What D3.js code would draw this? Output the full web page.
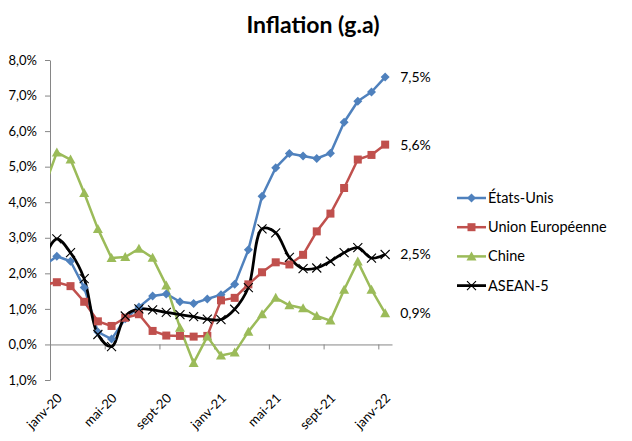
<!DOCTYPE html>
<html><head><meta charset="utf-8">
<script src="https://cdn.jsdelivr.net/npm/d3@7"></script>
<style>
body{margin:0;background:#fff;}
svg{display:block;font-family:Lato,"Open Sans",sans-serif;}
</style></head>
<body><svg id="c" width="632" height="441"></svg>
<script>
// Months: index -1 = déc-19 (clipped at the axis), 0 = janv-20 ... 24 = janv-22
const months = ["déc-19","janv-20","févr-20","mars-20","avr-20","mai-20","juin-20","juil-20","août-20","sept-20","oct-20","nov-20","déc-20",
  "janv-21","févr-21","mars-21","avr-21","mai-21","juin-21","juil-21","août-21","sept-21","oct-21","nov-21","déc-21","janv-22"];
const xTickLabels = ["janv-20","mai-20","sept-20","janv-21","mai-21","sept-21","janv-22"];
const yTicks = [-1,0,1,2,3,4,5,6,7,8];
const etatsUnis = [2.2,2.48,2.34,1.6,0.35,0.15,0.72,1.05,1.36,1.42,1.2,1.15,1.28,1.4,1.69,2.66,4.17,4.97,5.37,5.3,5.23,5.38,6.25,6.84,7.1,7.52];
const unionEuropeenne = [1.67,1.75,1.64,1.2,0.65,0.52,0.75,0.85,0.38,0.25,0.24,0.22,0.24,1.24,1.31,1.69,2.03,2.31,2.25,2.52,3.18,3.68,4.4,5.2,5.33,5.62];
const chine = [4.34,5.4,5.2,4.26,3.25,2.43,2.46,2.69,2.44,1.66,0.47,-0.52,0.22,-0.31,-0.23,0.36,0.85,1.31,1.1,1.02,0.8,0.67,1.54,2.33,1.54,0.88];
const asean5 = [2.37,2.97,2.58,1.85,0.28,-0.06,0.8,1.0,0.97,0.9,0.84,0.78,0.71,0.7,0.99,1.6,3.25,3.14,2.45,2.13,2.15,2.34,2.58,2.72,2.43,2.53];
const seriesNames = ["États-Unis","Union Européenne","Chine","ASEAN-5"];
const seriesColors = ["#4F81BD","#C0504D","#9BBB59","#000000"];
const seriesMarkers = ["diamond","square","triangle","cross"];
const seriesData = [etatsUnis, unionEuropeenne, chine, asean5];

const svg = d3.select("#c");
const x = d3.scaleLinear().domain([-0.5, 24.5]).range([50, 392]);
const y = d3.scaleLinear().domain([-1, 8]).range([380, 60]);
const fmt = v => d3.format(".1f")(Math.abs(v)).replace(".", ",") + "%";

// title
svg.append("text").attr("x", 313).attr("y", 33).attr("text-anchor","middle")
  .attr("font-weight","bold").attr("font-size", 23).attr("fill","#000").text("Inflation (g.a)");

// clip
svg.append("clipPath").attr("id","plot").append("rect")
  .attr("x", x(-0.5)).attr("y", 40).attr("width", x(24.5)-x(-0.5)+20).attr("height", 360);

// y axis
const ya = svg.append("g").attr("transform", `translate(${x(-0.5)},0)`)
  .call(d3.axisLeft(y).tickValues(yTicks).tickSize(5).tickSizeOuter(0).tickPadding(8).tickFormat(fmt));
ya.selectAll("path,line").attr("stroke","#868686");
ya.selectAll("text").attr("font-size", 13).attr("fill","#000").attr("font-family","Lato,sans-serif");

// x axis at 0
const xa = svg.append("g").attr("transform", `translate(0,${y(0)})`)
  .call(d3.axisBottom(x).tickValues(d3.range(-0.5, 24, 4)).tickSize(5).tickSizeOuter(0).tickFormat(""));
xa.selectAll("path,line").attr("stroke","#868686");

// x labels at bottom of plot area
svg.append("g").selectAll("text").data(xTickLabels).join("text")
  .attr("transform", d => `translate(${x(months.indexOf(d)-1)+6},${y(-1)+19}) rotate(-45)`)
  .attr("text-anchor","end").attr("font-size", 13).attr("fill","#000").text(d => d);

// lines
const g = svg.append("g").attr("clip-path","url(#plot)");
seriesData.forEach((data, s) => {
  const line = d3.line().x((d,i) => x(i-1)).y(d => y(d))
    .curve(s === 3 ? d3.curveCatmullRom.alpha(0.5) : d3.curveLinear);
  g.append("path").datum(data).attr("d", line).attr("fill","none")
    .attr("stroke", seriesColors[s]).attr("stroke-width", s === 3 ? 2.75 : 2.5).attr("stroke-linejoin","round");
});

function marker(sel, type, color) {
  if (type === "diamond") sel.append("path").attr("d","M0,-4.5L4.5,0L0,4.5L-4.5,0Z").attr("fill",color);
  else if (type === "square") sel.append("rect").attr("x",-4).attr("y",-4).attr("width",8).attr("height",8).attr("fill",color);
  else if (type === "triangle") sel.append("path").attr("d","M0,-5L5,4L-5,4Z").attr("fill",color);
  else sel.append("path").attr("d","M-4.5,-4.5L4.5,4.5M-4.5,4.5L4.5,-4.5").attr("stroke",color).attr("stroke-width",1.1).attr("fill","none");
}
seriesData.forEach((data, s) => {
  data.forEach((v, i) => {
    if (i === 0) return;
    const m = g.append("g").attr("transform", `translate(${x(i-1)},${y(v)})`);
    marker(m, seriesMarkers[s], seriesColors[s]);
  });
  // end label
  const last = data[data.length-1];
  svg.append("text").attr("x", x(24)+15).attr("y", y(last)).attr("dy","0.35em")
    .attr("font-size", 14).attr("fill","#000").text(fmt(last));
});

// legend
const leg = svg.append("g");
seriesNames.forEach((name, s) => {
  const ly = 198 + s*29.2;
  leg.append("line").attr("x1", 457).attr("x2", 486).attr("y1", ly).attr("y2", ly)
    .attr("stroke", seriesColors[s]).attr("stroke-width", s === 3 ? 2.75 : 2.5);
  const m = leg.append("g").attr("transform", `translate(471.5,${ly})`);
  marker(m, seriesMarkers[s], seriesColors[s]);
  leg.append("text").attr("x", 488).attr("y", ly).attr("dy","0.35em")
    .attr("font-size", 14.5).attr("fill","#000").text(name);
});
</script></body></html>
